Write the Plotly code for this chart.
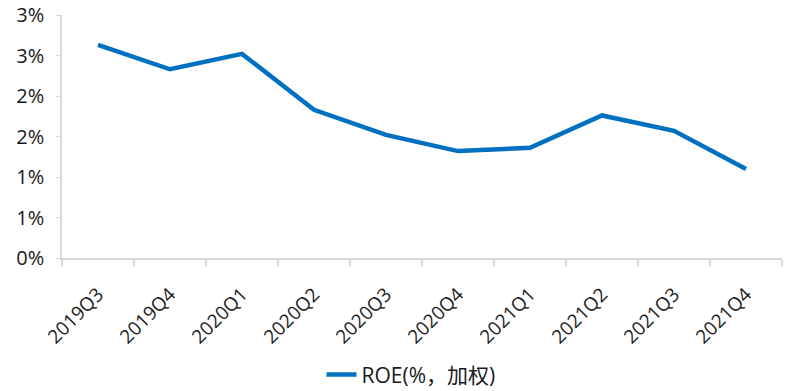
import plotly.graph_objects as go

quarters = ["2019Q3", "2019Q4", "2020Q1", "2020Q2", "2020Q3", "2020Q4",
            "2021Q1", "2021Q2", "2021Q3", "2021Q4"]
roe = [2.63, 2.33, 2.52, 1.83, 1.52, 1.32, 1.36, 1.76, 1.57, 1.10]
y_tickvals = [0, 0.5, 1.0, 1.5, 2.0, 2.5, 3.0]
y_ticktext = ["0%", "1%", "1%", "2%", "2%", "3%", "3%"]
series_name = "ROE(%，加权)"

font_family = "Open Sans, Noto Sans CJK SC, sans-serif"

fig = go.Figure()
fig.add_trace(go.Scatter(
    x=quarters, y=roe, mode="lines", name=series_name,
    line=dict(color="#0070C0", width=4.5),
))

fig.update_layout(
    width=788, height=391,
    margin=dict(l=62, r=6, t=15, b=133),
    paper_bgcolor="white", plot_bgcolor="white",
    font=dict(family=font_family, size=19, color="#1a1a1a"),
    showlegend=True,
    legend=dict(orientation="h", x=0.5216, xanchor="center", xref="container",
                y=0.041, yanchor="middle", yref="container",
                font=dict(size=21), bgcolor="rgba(0,0,0,0)"),
    xaxis=dict(
        type="category", showgrid=False, showline=True, linecolor="#D9D9D9", linewidth=1.5,
        ticks="outside", tickson="boundaries", ticklen=6, tickcolor="#D9D9D9", tickwidth=1.5,
        tickangle=-45, tickfont=dict(size=19), range=[-0.5, 9.5], automargin=False,
        ticklabelstandoff=16,
    ),
    yaxis=dict(
        range=[0, 3], tickvals=y_tickvals, ticktext=y_ticktext,
        showgrid=False, showline=True, linecolor="#D9D9D9", linewidth=1.5,
        ticks="outside", ticklen=4, tickcolor="#D9D9D9", zeroline=False,
        tickfont=dict(size=20), automargin=False, ticklabelstandoff=8,
    ),
)

fig.write_html("out.html")
